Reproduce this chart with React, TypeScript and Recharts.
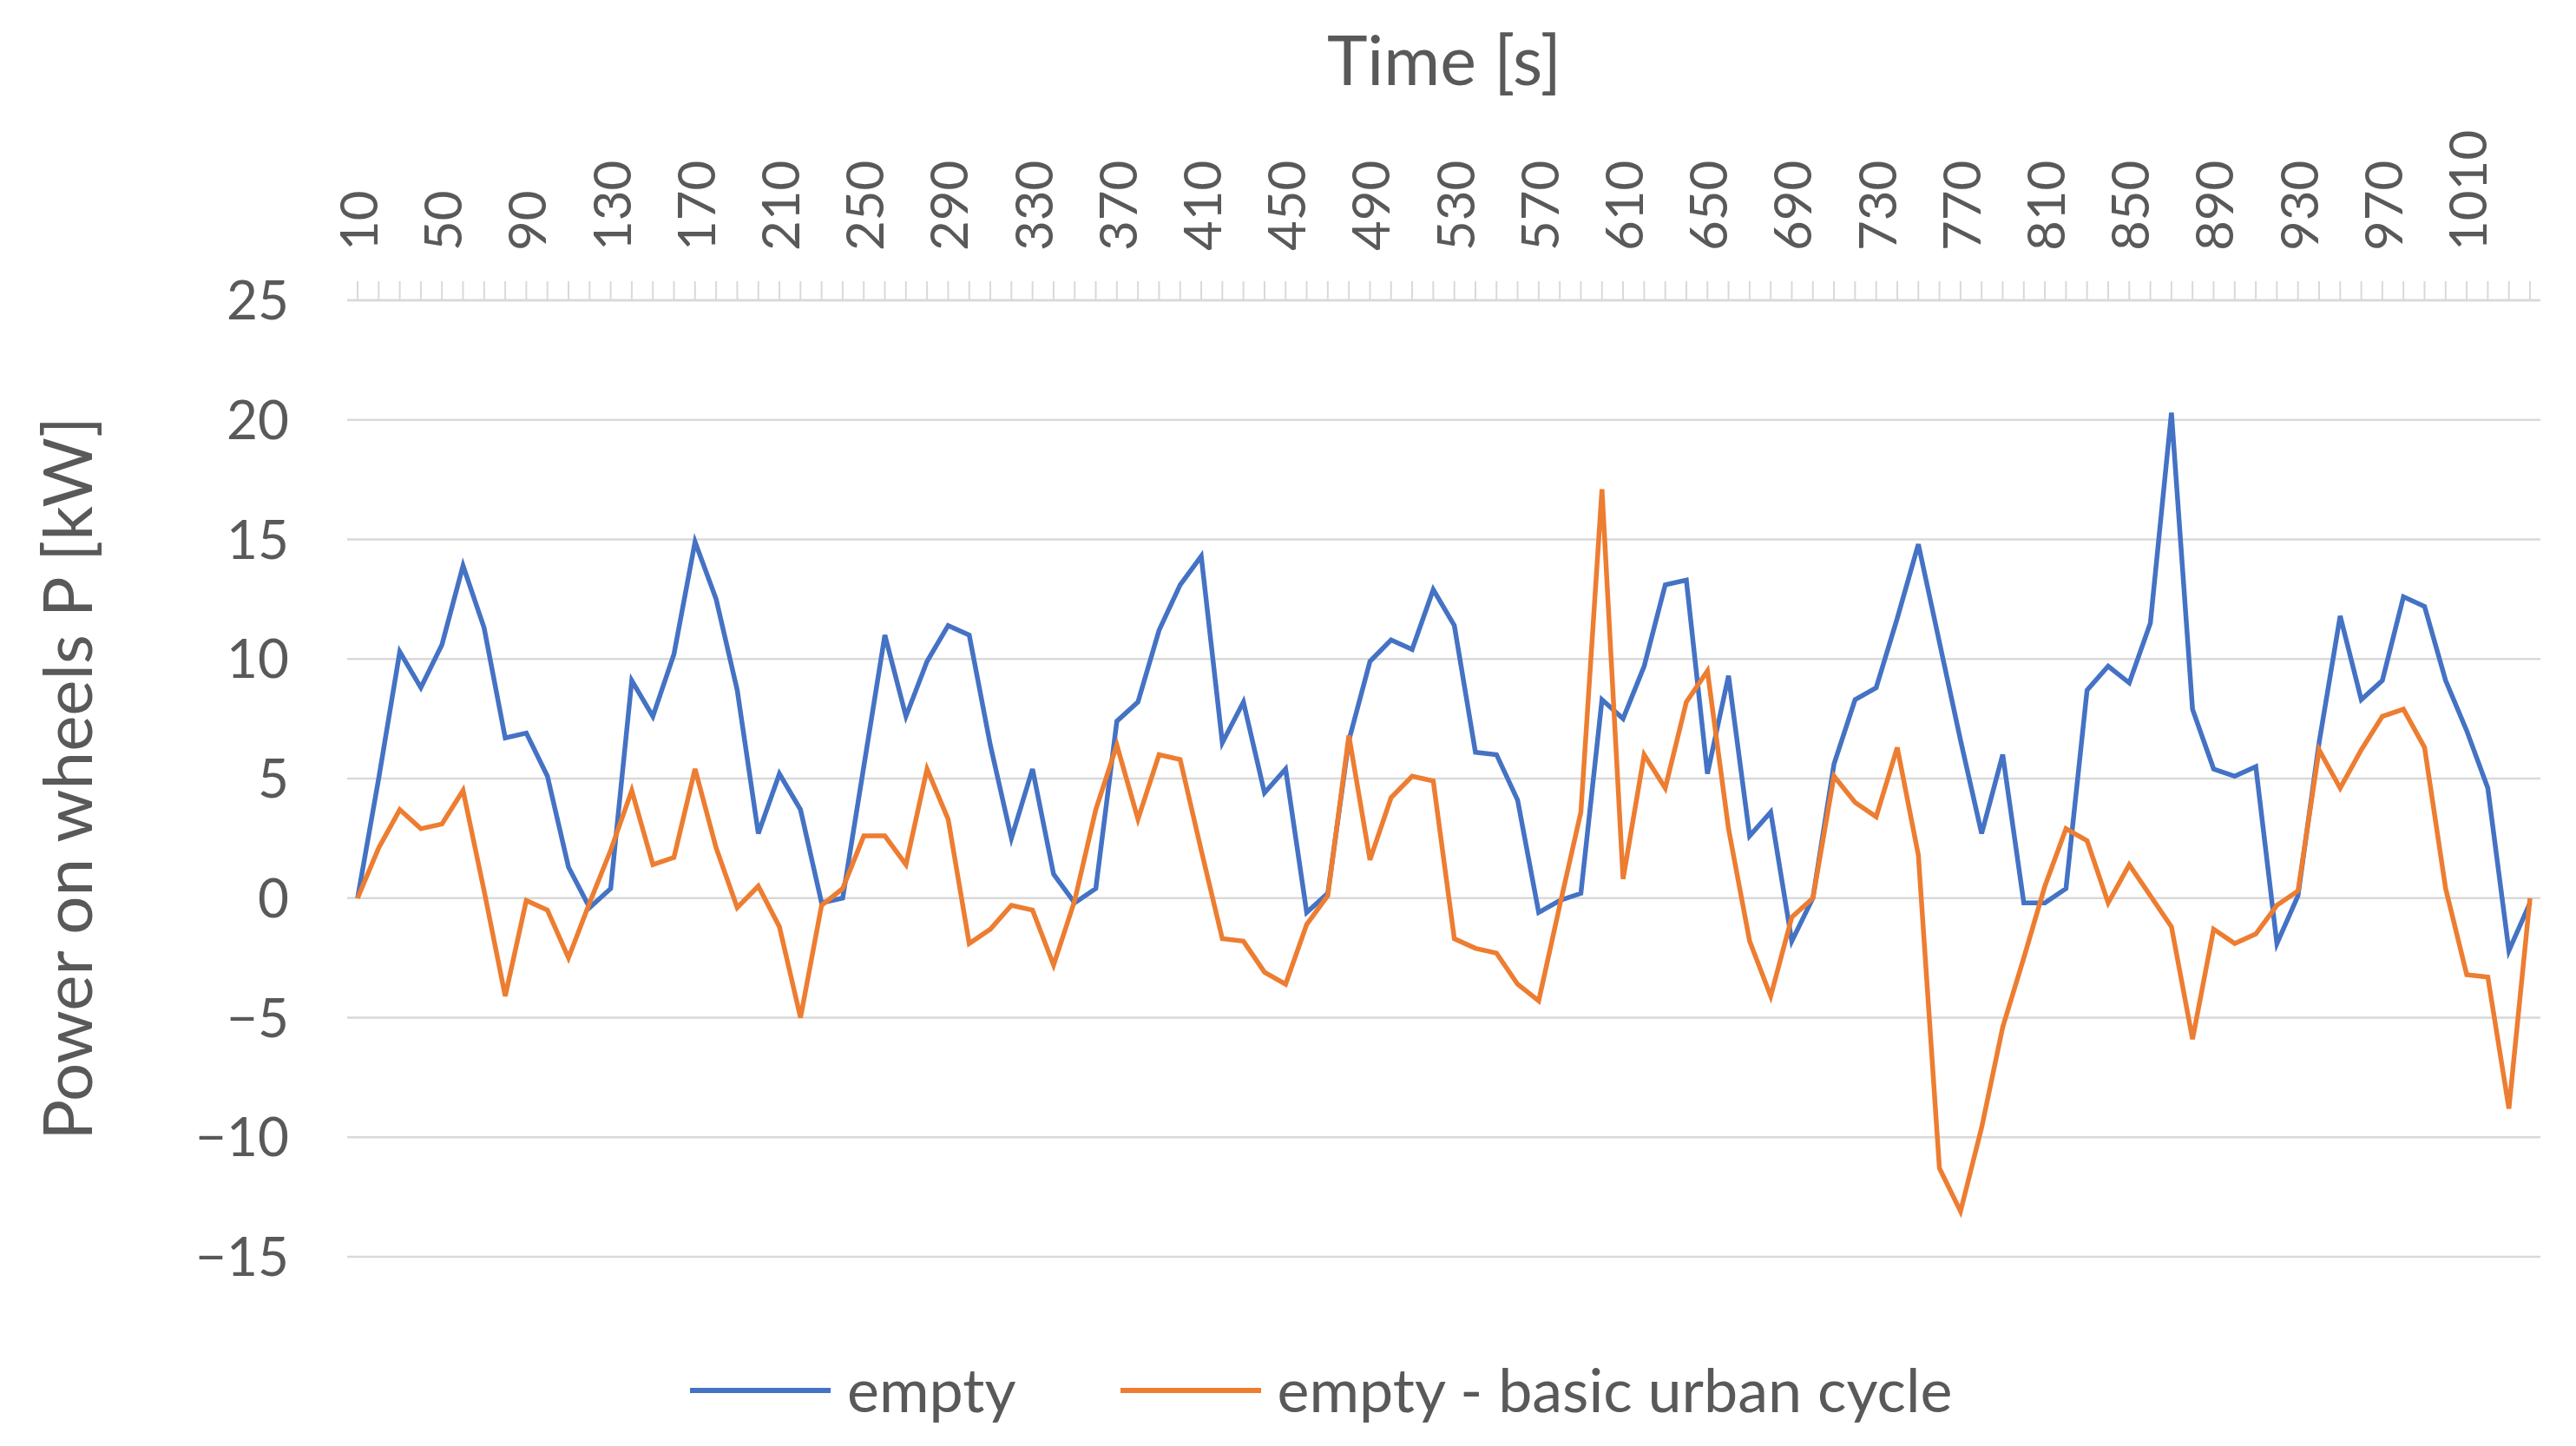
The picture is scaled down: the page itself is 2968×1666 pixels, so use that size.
import React from "react"
import { LineChart, Line, XAxis, YAxis, CartesianGrid, Legend, Label } from "recharts"

// Zeitachse [s]
const times = [
  10, 20, 30, 40, 50, 60, 70, 80, 90, 100, 110, 120, 130, 140, 150, 160, 170, 180, 190, 200,
  210, 220, 230, 240, 250, 260, 270, 280, 290, 300, 310, 320, 330, 340, 350, 360, 370, 380, 390, 400,
  410, 420, 430, 440, 450, 460, 470, 480, 490, 500, 510, 520, 530, 540, 550, 560, 570, 580, 590, 600,
  610, 620, 630, 640, 650, 660, 670, 680, 690, 700, 710, 720, 730, 740, 750, 760, 770, 780, 790, 800,
  810, 820, 830, 840, 850, 860, 870, 880, 890, 900, 910, 920, 930, 940, 950, 960, 970, 980, 990, 1000,
  1010, 1020, 1030, 1040,
]

// Leistung am Rad [kW] - "empty"
const emptyPower = [
  0, 5.0, 10.3, 8.8, 10.6, 13.9, 11.3, 6.7, 6.9, 5.1, 1.3, -0.4, 0.4, 9.1, 7.6, 10.2, 14.9, 12.5, 8.7, 2.7,
  5.2, 3.7, -0.2, 0.0, 5.5, 11.0, 7.6, 9.9, 11.4, 11.0, 6.4, 2.5, 5.4, 1.0, -0.2, 0.4, 7.4, 8.2, 11.2, 13.1,
  14.3, 6.5, 8.2, 4.4, 5.4, -0.6, 0.2, 6.6, 9.9, 10.8, 10.4, 12.9, 11.4, 6.1, 6.0, 4.1, -0.6, -0.1, 0.2, 8.3,
  7.5, 9.7, 13.1, 13.3, 5.2, 9.3, 2.6, 3.6, -1.8, 0.0, 5.6, 8.3, 8.8, 11.7, 14.8, 10.7, 6.6, 2.7, 6.0, -0.2,
  -0.2, 0.4, 8.7, 9.7, 9.0, 11.5, 20.3, 7.9, 5.4, 5.1, 5.5, -1.9, 0.1, 6.5, 11.8, 8.3, 9.1, 12.6, 12.2, 9.1,
  7.0, 4.6, -2.2, -0.2,
]

// Leistung am Rad [kW] - "empty - basic urban cycle"
const urbanCyclePower = [
  0, 2.1, 3.7, 2.9, 3.1, 4.5, 0.3, -4.1, -0.1, -0.5, -2.5, -0.2, 2.0, 4.5, 1.4, 1.7, 5.4, 2.1, -0.4, 0.5,
  -1.2, -5.0, -0.3, 0.4, 2.6, 2.6, 1.4, 5.4, 3.3, -1.9, -1.3, -0.3, -0.5, -2.8, -0.1, 3.7, 6.4, 3.3, 6.0, 5.8,
  2.0, -1.7, -1.8, -3.1, -3.6, -1.1, 0.1, 6.8, 1.6, 4.2, 5.1, 4.9, -1.7, -2.1, -2.3, -3.6, -4.3, -0.3, 3.6, 17.1,
  0.8, 6.0, 4.6, 8.2, 9.5, 2.9, -1.8, -4.1, -0.8, 0.0, 5.1, 4.0, 3.4, 6.3, 1.8, -11.3, -13.1, -9.6, -5.4, -2.5,
  0.5, 2.9, 2.4, -0.2, 1.4, 0.1, -1.2, -5.9, -1.3, -1.9, -1.5, -0.3, 0.3, 6.2, 4.6, 6.2, 7.6, 7.9, 6.3, 0.4,
  -3.2, -3.3, -8.8, 0,
]

const yTicks = [-15, -10, -5, 0, 5, 10, 15, 20, 25]

const seriesNames = ["empty", "empty - basic urban cycle"]
const seriesColors = ["#4472C4", "#ED7D31"]

const data = times.map((t, i) => ({
  t,
  empty: emptyPower[i],
  urban: urbanCyclePower[i],
}))

const FONT = "Lato, 'Open Sans', sans-serif"
const TEXT = "#595959"
const GRID = "#d9d9d9"

// nur jede 4. Kategorie beschriften, Striche aber für alle
function TimeTick(props: any) {
  const { x, y, payload, index } = props
  if (index % 4 !== 0) return null
  return (
    <text
      x={x}
      y={y}
      transform={`rotate(-90, ${x}, ${y})`}
      textAnchor="start"
      dominantBaseline="central"
      fill={TEXT}
      fontSize={60}
      fontFamily={FONT}
    >
      {payload.value}
    </text>
  )
}

function renderLegend() {
  return (
    <div style={{ display: "flex", alignItems: "center", fontFamily: FONT, fontSize: 70, color: TEXT }}>
      {seriesNames.map((name, i) => (
        <div key={name} style={{ display: "flex", alignItems: "center", marginRight: i === 0 ? 120 : 0 }}>
          <div style={{ width: 162, height: 6, background: seriesColors[i], marginRight: 19, marginTop: 4 }} />
          <span>{name}</span>
        </div>
      ))}
    </div>
  )
}

export default function App() {
  return (
    <div style={{ width: 2968, height: 1666, background: "#fff" }}>
      <style>{`body{margin:0}`}</style>
      <LineChart width={2968} height={1666} data={data} margin={{ top: 196, right: 41, bottom: 218, left: 0 }}>
        <CartesianGrid vertical={false} stroke={GRID} strokeWidth={2.5} />
        <XAxis
          dataKey="t"
          orientation="top"
          height={150}
          interval={0}
          padding={{ left: 12, right: 12 }}
          tick={<TimeTick />}
          tickSize={22}
          tickMargin={35}
          axisLine={{ stroke: GRID, strokeWidth: 2.5 }}
          tickLine={{ stroke: GRID, strokeWidth: 2 }}
        >
          <Label
            content={() => (
              <text x={1664} y={67} textAnchor="middle" dominantBaseline="central" fill={TEXT} fontSize={79} fontFamily={FONT}>
                Time [s]
              </text>
            )}
          />
        </XAxis>
        <YAxis
          width={400}
          domain={[-15, 25]}
          ticks={yTicks}
          interval={0}
          axisLine={false}
          tickLine={false}
          tickSize={0}
          tickMargin={67}
          tick={{ fill: TEXT, fontSize: 62, fontFamily: FONT }}
          tickFormatter={(v: number) => (v < 0 ? `\u2212${Math.abs(v)}` : `${v}`)}
        >
          <Label
            content={() => (
              <text
                x={76}
                y={897}
                transform="rotate(-90, 76, 897)"
                textAnchor="middle"
                dominantBaseline="central"
                fill={TEXT}
                fontSize={78}
                fontFamily={FONT}
              >
                Power on wheels P [kW]
              </text>
            )}
          />
        </YAxis>
        <Legend
          verticalAlign="middle"
          align="center"
          content={renderLegend}
          wrapperStyle={{ left: 795, top: 1558, width: "auto" }}
        />
        <Line
          type="linear"
          dataKey="empty"
          name={seriesNames[0]}
          stroke={seriesColors[0]}
          strokeWidth={5.5}
          dot={false}
          activeDot={false}
          isAnimationActive={false}
        />
        <Line
          type="linear"
          dataKey="urban"
          name={seriesNames[1]}
          stroke={seriesColors[1]}
          strokeWidth={5.5}
          dot={false}
          activeDot={false}
          isAnimationActive={false}
        />
      </LineChart>
    </div>
  )
}
